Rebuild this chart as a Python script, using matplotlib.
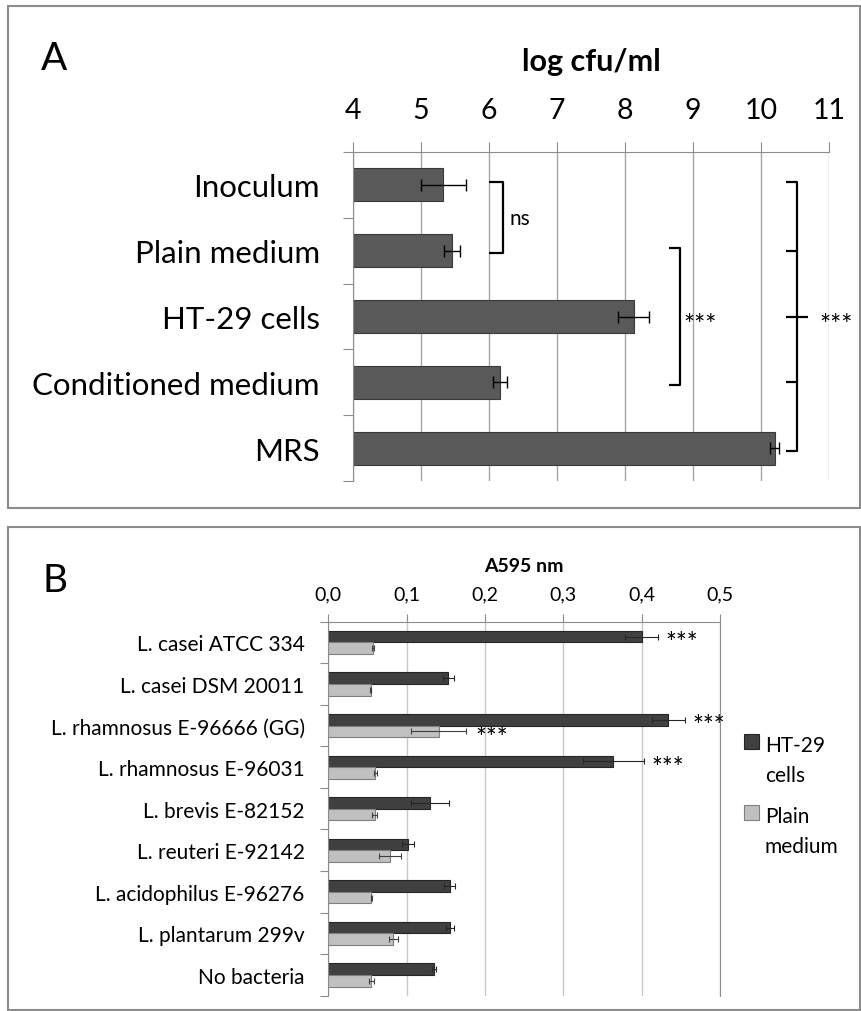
import numpy as np
import matplotlib.pyplot as plt
from matplotlib.patches import Rectangle

plt.rcParams['font.family'] = ['Lato', 'DejaVu Sans']

# panel A data
groups_a = ['Inoculum', 'Plain medium', 'HT-29 cells', 'Conditioned medium', 'MRS']
logcfu = [5.33, 5.46, 8.13, 6.16, 10.20]
logcfu_err = [0.33, 0.12, 0.23, 0.10, 0.07]
ticks_a = [4, 5, 6, 7, 8, 9, 10, 11]

# panel B data
strains = ['L. casei ATCC 334', 'L. casei DSM 20011', 'L. rhamnosus E-96666 (GG)',
           'L. rhamnosus E-96031', 'L. brevis E-82152', 'L. reuteri E-92142',
           'L. acidophilus E-96276', 'L. plantarum 299v', 'No bacteria']
a595_cells = [0.400, 0.153, 0.434, 0.364, 0.130, 0.102, 0.155, 0.155, 0.135]
a595_cells_err = [0.021, 0.007, 0.021, 0.039, 0.024, 0.008, 0.007, 0.005, 0.002]
a595_plain = [0.057, 0.054, 0.141, 0.060, 0.059, 0.079, 0.055, 0.083, 0.055]
a595_plain_err = [0.001, 0.001, 0.035, 0.002, 0.003, 0.014, 0.001, 0.006, 0.003]
ticks_b = [0.0, 0.1, 0.2, 0.3, 0.4, 0.5]
ticklabels_b = ['0,0', '0,1', '0,2', '0,3', '0,4', '0,5']
stars_cells = [0, 2, 3]
stars_plain = [2]

W, H = 861, 1012
fig = plt.figure(figsize=(W / 100, H / 100), dpi=100)


def axes_px(l, t, r, b):
    return fig.add_axes([l / W, 1 - b / H, (r - l) / W, (b - t) / H])


def frame_px(l, t, r, b):
    fig.add_artist(Rectangle((l / W, 1 - b / H), (r - l) / W, (b - t) / H,
                             transform=fig.transFigure, fill=False,
                             ec='#8c8c8c', lw=1.5))


frame_px(8, 7, 860, 509)
frame_px(8, 528, 860, 1011)
fig.text(41 / W, 1 - 70 / H, 'A', fontsize=28, va='baseline')
fig.text(43 / W, 1 - 592 / H, 'B', fontsize=28, va='baseline')

axis_grey = '#8c8c8c'

# ---- panel A
ax = axes_px(353, 153, 829, 482)
ya = np.arange(len(groups_a))
ax.barh(ya, np.array(logcfu) - 4, left=4, height=0.5, color='#595959',
        edgecolor='#3a3a3a', lw=0.8, xerr=logcfu_err,
        error_kw=dict(ecolor='black', elinewidth=1, capsize=4.5, capthick=1))
ax.set_xlim(4, 11)
ax.set_ylim(4.5, -0.5)
ax.xaxis.tick_top()
ax.set_xticks(ticks_a)
ax.tick_params(axis='x', direction='out', length=7, width=0.8, color=axis_grey,
               labelsize=20.5, pad=14)
ax.set_yticks(ya)
ax.set_yticklabels(groups_a)
ax.set_yticks(np.arange(-0.5, len(groups_a), 1), minor=True)
ax.tick_params(axis='y', which='major', length=0, labelsize=22.5, pad=24)
ax.tick_params(axis='y', which='minor', length=7, width=0.8, color=axis_grey)
ax.grid(axis='x', color='#a6a6a6', lw=1)
ax.set_axisbelow(True)
for s in ['right', 'bottom']:
    ax.spines[s].set_visible(False)
for s in ['top', 'left']:
    ax.spines[s].set_color(axis_grey)
ax.xaxis.set_label_position('top')
ax.set_xlabel('log cfu/ml', fontsize=22, fontweight='bold', labelpad=19)


def bracket(i0, i1, x, arm, mids=(), cross=None):
    kw = dict(color='black', lw=1.6, clip_on=False, solid_capstyle='butt')
    ax.plot([arm, x, x, arm], [i0 - 0.04, i0 - 0.04, i1 + 0.04, i1 + 0.04], **kw)
    for m in mids:
        ax.plot([arm, x], [m, m], **kw)
    if cross is not None:
        ax.plot([arm, cross], [(i0 + i1) / 2, (i0 + i1) / 2], **kw)


bracket(0, 1, 6.2, 6.0)
ax.text(6.3, 0.5, 'ns', fontsize=15, va='center', ha='left')
bracket(1, 3, 8.81, 8.65)
ax.text(8.86, 2.14, '***', fontsize=19, va='center', ha='left')
bracket(0, 4, 10.53, 10.37, mids=(1, 3), cross=10.69)
ax.text(10.86, 2.14, '***', fontsize=19, va='center', ha='left')

# ---- panel B
bx = axes_px(328.3, 622.7, 720, 996.7)
yb = np.arange(len(strains))
h = 0.28
bx.barh(yb - h / 2, a595_cells, height=h, color='#404040', edgecolor='#262626',
        lw=0.8, xerr=a595_cells_err,
        error_kw=dict(ecolor='#262626', elinewidth=0.8, capsize=2.2, capthick=0.8))
bx.barh(yb + h / 2, a595_plain, height=h, color='#c0c0c0', edgecolor='#7f7f7f',
        lw=0.8, xerr=a595_plain_err,
        error_kw=dict(ecolor='#404040', elinewidth=0.8, capsize=2.2, capthick=0.8))
for i in stars_cells:
    bx.text(a595_cells[i] + a595_cells_err[i] + 0.01, i - h / 2 + 0.17, '***',
            fontsize=18.5, va='center', ha='left', clip_on=False)
for i in stars_plain:
    bx.text(a595_plain[i] + a595_plain_err[i] + 0.012, i + h / 2 + 0.17, '***',
            fontsize=18.5, va='center', ha='left', clip_on=False)
bx.set_xlim(0, 0.5)
bx.set_ylim(len(strains) - 0.5, -0.5)
bx.xaxis.tick_top()
bx.set_xticks(ticks_b)
bx.set_xticklabels(ticklabels_b)
bx.tick_params(axis='x', direction='out', length=6, width=0.8, color=axis_grey,
               labelsize=14, pad=8)
bx.set_yticks(yb)
bx.set_yticklabels(strains)
bx.set_yticks(np.arange(-0.5, len(strains), 1), minor=True)
bx.tick_params(axis='y', which='major', length=0, labelsize=15, pad=17)
bx.tick_params(axis='y', which='minor', length=6, width=0.8, color=axis_grey)
bx.grid(axis='x', color='#c8c8c8', lw=1)
bx.set_axisbelow(True)
bx.spines['bottom'].set_visible(False)
for s in ['top', 'left', 'right']:
    bx.spines[s].set_color(axis_grey)
bx.xaxis.set_label_position('top')
bx.set_xlabel('A595 nm', fontsize=14, fontweight='bold', labelpad=10)

# legend drawn by hand so the swatch sits on the first line of each label
legend_items = [('HT-29\ncells', '#404040', '#262626', 735),
                ('Plain\nmedium', '#c0c0c0', '#7f7f7f', 806)]
for label, fc, ec, top in legend_items:
    fig.add_artist(Rectangle((744 / W, 1 - (top + 15) / H), 15 / W, 15 / H,
                             transform=fig.transFigure, fc=fc, ec=ec, lw=0.8))
    # text baseline refers to the last line; first line sits on the swatch
    fig.text(765 / W, 1 - (top + 15 + 32) / H, label, fontsize=15,
             va='baseline', linespacing=1.65)

fig.savefig('out.png', dpi=100)
